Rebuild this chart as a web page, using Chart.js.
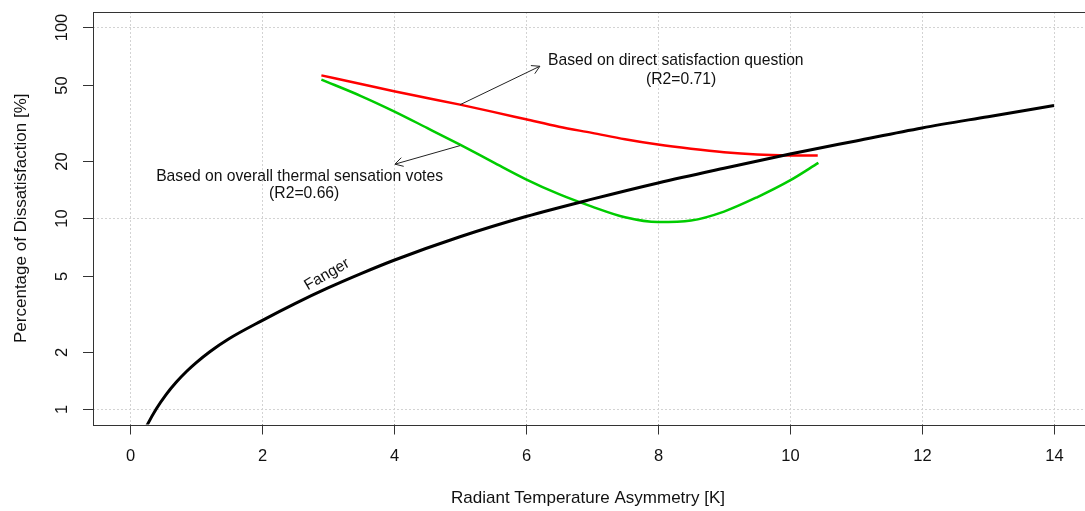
<!DOCTYPE html>
<html>
<head>
<meta charset="utf-8">
<script src="https://cdn.jsdelivr.net/npm/chart.js@4"></script>
<style>
  html, body { margin: 0; padding: 0; background: #fff; overflow: hidden; }
  #wrap { width: 1095px; height: 511px; position: relative; }
</style>
</head>
<body>
<div id="wrap"><canvas id="pdChart"></canvas></div>
<script>
// Fanger reference curve
const fangerX = [0.2, 0.27, 0.4, 0.55, 0.7, 0.86, 1.0, 1.21, 1.5, 2.0, 2.5, 3.0, 3.5, 4.0, 5.0, 6.0, 7.0, 8.0, 9.0, 10.0, 11.0, 12.0, 13.0, 14.0];
const fangerY = [0.745, 0.838, 1.006, 1.197, 1.384, 1.58, 1.749, 2.0, 2.339, 2.911, 3.573, 4.315, 5.129, 6.026, 8.0, 10.21, 12.59, 15.31, 18.28, 21.68, 25.41, 29.72, 34.04, 38.9];

// fit on direct satisfaction question
const directX = [2.9, 3.5, 4.0, 4.5, 5.0, 5.5, 6.0, 6.5, 7.0, 7.5, 8.0, 8.5, 9.0, 9.5, 10.0, 10.42];
const directY = [55.98, 50.47, 46.24, 42.66, 39.36, 36.06, 32.96, 30.13, 27.99, 25.94, 24.32, 23.12, 22.18, 21.58, 21.33, 21.28];

// fit on overall thermal sensation votes
const tsvX = [2.9, 3.5, 4.0, 4.5, 5.0, 5.5, 6.0, 6.5, 7.0, 7.5, 8.0, 8.5, 9.0, 9.5, 10.0, 10.43];
const tsvY = [53.2, 43.65, 36.31, 29.72, 24.27, 19.68, 16.0, 13.37, 11.51, 10.12, 9.55, 9.73, 10.84, 12.88, 15.78, 19.5];

const xTicks = [0, 2, 4, 6, 8, 10, 12, 14];
const yTicks = [1, 2, 5, 10, 20, 50, 100];
const yGrid = [1, 10, 100];

const xTitle = "Radiant Temperature Asymmetry [K]";
const yTitle = "Percentage of Dissatisfaction [%]";

const FONT = '"Liberation Sans", Arial, sans-serif';

function toPoints(xs, ys) {
  return xs.map((x, i) => ({ x: x, y: ys[i] }));
}

function arrow(ctx, x1, y1, x2, y2) {
  const ang = Math.atan2(y2 - y1, x2 - x1);
  const len = 9;
  ctx.beginPath();
  ctx.moveTo(x1, y1);
  ctx.lineTo(x2, y2);
  ctx.moveTo(x2 - len * Math.cos(ang - Math.PI / 6), y2 - len * Math.sin(ang - Math.PI / 6));
  ctx.lineTo(x2, y2);
  ctx.lineTo(x2 - len * Math.cos(ang + Math.PI / 6), y2 - len * Math.sin(ang + Math.PI / 6));
  ctx.stroke();
}

const rFrame = {
  id: "rFrame",
  beforeDatasetsDraw(chart) {
    const { ctx, chartArea: a, scales } = chart;
    const sx = scales.x, sy = scales.y;
    ctx.save();
    ctx.strokeStyle = "#d3d3d3";
    ctx.lineWidth = 1;
    ctx.setLineDash([2, 2]);
    xTicks.forEach((v) => {
      const px = Math.round(sx.getPixelForValue(v)) + 0.5;
      ctx.beginPath();
      ctx.moveTo(px, a.top);
      ctx.lineTo(px, a.bottom);
      ctx.stroke();
    });
    yGrid.forEach((v) => {
      const py = Math.round(sy.getPixelForValue(v)) + 0.5;
      ctx.beginPath();
      ctx.moveTo(a.left, py);
      ctx.lineTo(a.right, py);
      ctx.stroke();
    });
    ctx.restore();
  },
  afterDatasetsDraw(chart) {
    const { ctx, chartArea: a, scales } = chart;
    const sx = scales.x, sy = scales.y;
    ctx.save();

    // box
    ctx.strokeStyle = "#333";
    ctx.lineWidth = 1;
    ctx.strokeRect(Math.round(a.left) + 0.5, Math.round(a.top) + 0.5, a.right - a.left, Math.round(a.bottom - a.top));

    // ticks and tick labels
    ctx.fillStyle = "#111";
    ctx.font = "16.5px " + FONT;
    ctx.textAlign = "center";
    ctx.textBaseline = "middle";
    xTicks.forEach((v) => {
      const px = Math.round(sx.getPixelForValue(v)) + 0.5;
      ctx.beginPath();
      ctx.moveTo(px, a.bottom);
      ctx.lineTo(px, a.bottom + 10);
      ctx.stroke();
      ctx.fillText(String(v), px, a.bottom + 32);
    });
    yTicks.forEach((v) => {
      const py = Math.round(sy.getPixelForValue(v)) + 0.5;
      ctx.beginPath();
      ctx.moveTo(a.left - 10, py);
      ctx.lineTo(a.left, py);
      ctx.stroke();
      ctx.save();
      ctx.translate(a.left - 31, py);
      ctx.rotate(-Math.PI / 2);
      ctx.fillText(String(v), 0, 0);
      ctx.restore();
    });

    // axis titles
    ctx.font = "17px " + FONT;
    ctx.fillText(xTitle, (a.left + 1083) / 2, 498);
    ctx.save();
    ctx.translate(21, (a.top + a.bottom) / 2);
    ctx.rotate(-Math.PI / 2);
    ctx.fillText(yTitle, 0, 0);
    ctx.restore();

    // curve annotations
    ctx.font = "15.7px " + FONT;
    ctx.fillText("Based on direct satisfaction question", sx.getPixelForValue(8.27), sy.getPixelForValue(66.8));
    ctx.fillText("(R2=0.71)", sx.getPixelForValue(8.35), sy.getPixelForValue(53.1));
    ctx.fillText("Based on overall thermal sensation votes", sx.getPixelForValue(2.57), sy.getPixelForValue(16.5));
    ctx.fillText("(R2=0.66)", sx.getPixelForValue(2.64), sy.getPixelForValue(13.4));

    ctx.save();
    ctx.translate(sx.getPixelForValue(2.985), sy.getPixelForValue(5.07));
    ctx.rotate(-30 * Math.PI / 180);
    ctx.font = "15.5px " + FONT;
    ctx.fillText("Fanger", 0, 0);
    ctx.restore();

    ctx.strokeStyle = "#222";
    ctx.lineWidth = 1;
    arrow(ctx, sx.getPixelForValue(5.0), sy.getPixelForValue(39.3), sx.getPixelForValue(6.21), sy.getPixelForValue(62.5));
    arrow(ctx, sx.getPixelForValue(5.0), sy.getPixelForValue(24.0), sx.getPixelForValue(4.015), sy.getPixelForValue(19.2));

    ctx.restore();
  },
};

const lineStyle = { pointRadius: 0, fill: false, cubicInterpolationMode: "monotone", borderCapStyle: "butt", borderJoinStyle: "round" };

new Chart(document.getElementById("pdChart"), {
  type: "line",
  data: {
    datasets: [
      { ...lineStyle, label: "Fanger", data: toPoints(fangerX, fangerY), borderColor: "#000", borderWidth: 3 },
      { ...lineStyle, label: "Direct satisfaction", data: toPoints(directX, directY), borderColor: "#ff0000", borderWidth: 2.5 },
      { ...lineStyle, label: "Thermal sensation votes", data: toPoints(tsvX, tsvY), borderColor: "#00cc00", borderWidth: 2.5 },
    ],
  },
  options: {
    responsive: true,
    maintainAspectRatio: false,
    animation: false,
    events: [],
    layout: { padding: { left: 93, top: 12, right: 4, bottom: 86.5 } },
    scales: {
      x: { type: "linear", min: -0.56, max: 14.56, display: false },
      y: { type: "logarithmic", min: Math.pow(10, -0.08), max: Math.pow(10, 2.08), display: false },
    },
    plugins: { legend: { display: false }, tooltip: { enabled: false } },
  },
  plugins: [rFrame],
});
</script>
</body>
</html>
